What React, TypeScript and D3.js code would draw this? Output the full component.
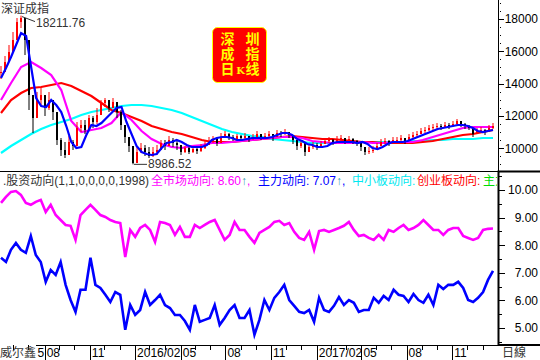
import React from 'react';
import * as d3 from 'd3';

const START = new Date(2015, 4, 7);
const END = new Date(2018, 0, 22);

// sampled candles of 深证成指
const closes = [14712, 15332, 15952, 16696, 17812, 18060, 16696, 13286, 11860, 12976,
  13286, 12480, 12976, 12232, 10496, 9876, 9566, 10372, 10124, 11240,
  11426, 11116, 11860, 11612, 12046, 12790, 12976, 12480, 12852, 12232,
  11426, 10682, 10124, 9070, 9752, 10000, 9752, 9504, 9752, 9876,
  10310, 10124, 10496, 10310, 10186, 9752, 10000, 9752, 9938, 9814,
  10000, 10186, 10434, 10558, 10310, 10682, 10868, 10682, 10558, 10744,
  10620, 10744, 10558, 10682, 10868, 10682, 10744, 10868, 10682, 10930,
  10868, 10992, 10806, 10496, 10124, 10310, 9752, 10062, 10186, 10062,
  10248, 10434, 10496, 10372, 10558, 10620, 10434, 10558, 10434, 10310,
  10062, 9752, 9814, 9876, 10124, 10372, 10434, 10310, 10496, 10496,
  10620, 10434, 10682, 10806, 10868, 11054, 11116, 11240, 11302, 11364,
  11302, 11426, 11364, 11488, 11674, 11488, 11364, 11240, 10868, 11054,
  11116, 10992, 11240, 11364];

const highs = [15084, 15704, 16386, 17192, 18060, 18211.76, 17440, 14836, 12976, 13472,
  13720, 13100, 13472, 12852, 11736, 10620, 10372, 10744, 10496, 11612,
  11736, 11736, 12046, 11984, 12480, 12976, 13100, 12976, 13100, 12728,
  12356, 11240, 10620, 10000, 10124, 10310, 10186, 10062, 10062, 10186,
  10496, 10496, 10744, 10620, 10496, 10186, 10124, 10062, 10124, 10062,
  10248, 10434, 10682, 10744, 10682, 10930, 11054, 10930, 10806, 10868,
  10806, 10930, 10744, 10868, 11054, 10868, 10930, 11054, 10868, 11116,
  11054, 11178, 10992, 10744, 10434, 10496, 10124, 10248, 10372, 10310,
  10434, 10620, 10682, 10558, 10744, 10806, 10620, 10744, 10620, 10496,
  10310, 10062, 10062, 10124, 10310, 10558, 10620, 10496, 10682, 10682,
  10806, 10620, 10868, 10992, 11054, 11240, 11302, 11426, 11488, 11550,
  11488, 11612, 11550, 11674, 11798, 11674, 11550, 11426, 11116, 11240,
  11302, 11178, 11426, 11550];

const lows = [14278, 14836, 15332, 15952, 16696, 17440, 15766, 12356, 10930, 12232,
  12666, 11984, 12356, 11736, 10186, 9504, 9380, 9876, 9876, 10496,
  10992, 10868, 11302, 11240, 11488, 12356, 12542, 12232, 12480, 11860,
  11116, 10310, 9752, 8986.52, 9256, 9690, 9504, 9380, 9442, 9566,
  9876, 9876, 10124, 10062, 9876, 9566, 9690, 9628, 9690, 9628,
  9752, 9938, 10186, 10310, 10124, 10496, 10620, 10496, 10434, 10496,
  10434, 10558, 10372, 10496, 10682, 10496, 10558, 10682, 10434, 10744,
  10682, 10806, 10620, 10248, 9876, 10000, 9504, 9814, 9938, 9876,
  10062, 10248, 10310, 10186, 10372, 10434, 10248, 10372, 10248, 10124,
  9814, 9566, 9628, 9690, 9938, 10186, 10248, 10124, 10310, 10310,
  10434, 10248, 10496, 10620, 10682, 10868, 10930, 11054, 11116, 11178,
  11116, 11240, 11178, 11302, 11426, 11302, 11178, 11116, 10682, 10868,
  10930, 10806, 11054, 11178];

const maShort = [14340, 14960, 15642, 16386, 17130, 16944, 15022, 13100, 12604, 12542,
  12976, 12666, 12232, 11364, 10372, 10000, 10062, 10806, 11426, 11364,
  11550, 11860, 12170, 12480, 12542, 11612, 10868, 10124, 9752, 9628,
  9566, 9628, 10000, 10310, 10372, 10496, 10372, 10186, 10062, 10062,
  10062, 10186, 10496, 10620, 10682, 10682, 10620, 10496, 10496, 10558,
  10620, 10620, 10620, 10620, 10682, 10806, 10930, 10930, 10806, 10558,
  10434, 10248, 10186, 10062, 10062, 10124, 10310, 10372, 10372, 10372,
  10372, 10310, 10372, 10248, 10000, 9938, 10062, 10248, 10372, 10372,
  10372, 10434, 10558, 10682, 10806, 10930, 11054, 11178, 11240, 11302,
  11364, 11426, 11426, 11364, 11240, 11054, 10992, 11054, 11116];

const maMid = [12976, 14030, 15022, 15332, 14960, 14526, 13596, 11674, 10992, 11116,
  11240, 11550, 12232, 11736, 11054, 10558, 10248, 10062, 10000, 10124,
  10186, 10310, 10310, 10372, 10434, 10496, 10558, 10620, 10682, 10682,
  10620, 10434, 10372, 10310, 10310, 10310, 10372, 10310, 10310, 10372,
  10372, 10372, 10496, 10682, 10868, 11054, 11240, 11302, 11302, 11302];

const maLong = [12170, 12976, 13410, 13720, 13782, 13906, 14030, 13844, 13534, 13224,
  12790, 12356, 12170, 11922, 11674, 11364, 11178, 10992, 10868, 10682,
  10496, 10372, 10372, 10372, 10434, 10496, 10558, 10620, 10682, 10744,
  10682, 10620, 10558, 10558, 10496, 10434, 10372, 10372, 10310, 10310,
  10310, 10310, 10372, 10434, 10558, 10682, 10806, 10868, 10992, 11116];

const maYear = [9690, 10124, 10496, 10868, 11178, 11426, 11612, 11798, 12046, 12232,
  12356, 12480, 12604, 12666, 12666, 12604, 12480, 12356, 12170, 11922,
  11674, 11426, 11178, 10992, 10868, 10744, 10682, 10558, 10496, 10434,
  10372, 10310, 10310, 10310, 10310, 10310, 10372, 10372, 10372, 10372,
  10372, 10434, 10434, 10496, 10496, 10558, 10558, 10558, 10620, 10620];

// 全市场动向
const marketDir = [9.53, 9.75, 9.93, 9.96, 9.82, 9.53, 9.46, 9.57, 9.64, 9.20,
  9.46, 9.09, 8.91, 8.73, 8.70, 8.19, 9.09, 9.28, 9.46, 9.28,
  9.09, 9.02, 8.91, 8.84, 8.80, 7.57, 8.55, 8.30, 8.62, 8.73,
  8.55, 8.12, 8.84, 8.80, 8.73, 8.37, 8.66, 8.30, 8.30, 8.73,
  8.62, 8.73, 8.84, 8.91, 8.55, 8.19, 8.37, 8.84, 8.55, 8.55,
  8.30, 8.08, 8.44, 8.55, 8.66, 8.84, 8.88, 8.73, 8.80, 8.48,
  8.26, 8.19, 8.48, 7.83, 8.51, 8.55, 8.48, 8.55, 8.62, 8.70,
  8.84, 8.55, 8.33, 8.37, 8.26, 8.19, 8.37, 8.19, 8.55, 8.48,
  8.62, 8.73, 8.55, 8.62, 8.73, 8.91, 8.73, 8.55, 8.55, 8.37,
  8.55, 8.62, 8.62, 8.33, 8.26, 8.19, 8.26, 8.55, 8.59, 8.60];

// 主力动向
const mainDir = [7.54, 7.39, 7.83, 8.08, 7.83, 7.72, 8.33, 7.64, 7.39, 6.67,
  7.10, 6.92, 7.39, 6.56, 6.01, 5.58, 6.38, 6.38, 7.54, 6.56,
  6.45, 6.20, 5.94, 6.30, 6.20, 4.93, 5.83, 5.47, 5.65, 6.30,
  5.83, 6.01, 6.20, 5.83, 5.72, 5.47, 5.47, 5.25, 4.93, 5.83,
  5.22, 5.29, 5.36, 5.83, 5.11, 5.36, 5.65, 5.83, 5.36, 5.36,
  5.65, 4.75, 5.29, 6.01, 5.65, 6.09, 6.30, 6.56, 6.01, 5.80,
  5.58, 5.54, 5.65, 5.22, 6.09, 5.65, 5.58, 5.80, 6.12, 5.83,
  6.01, 5.91, 5.58, 5.65, 5.65, 6.09, 5.91, 6.16, 6.01, 6.38,
  6.20, 6.16, 5.94, 6.23, 6.01, 5.91, 6.20, 5.83, 6.56, 6.41,
  6.56, 6.56, 6.67, 6.45, 6.01, 5.94, 6.09, 6.30, 6.74, 7.07];

const priceTicks = [10000, 12000, 14000, 16000, 18000];
const dirTicks = [5, 6, 7, 8, 9, 10];
const majorTickDates = [
  new Date(2015, 7, 3), new Date(2015, 10, 2), new Date(2016, 1, 1), new Date(2016, 4, 3),
  new Date(2016, 7, 1), new Date(2016, 10, 1), new Date(2017, 1, 1), new Date(2017, 4, 2),
  new Date(2017, 7, 1), new Date(2017, 10, 1)];
const majorTickLabels = ['08', '11', '2016/02', '05', '08', '11', '2017/02', '05', '08', '11'];

const FONT = "'Liberation Sans', Arial, 'Noto Sans CJK SC', sans-serif";
const CJK = "'Noto Sans CJK SC', sans-serif";

export default function App() {
  const x = d3.scaleTime().domain([START, END]).range([1, 493]);
  const dateAt = (n: number, i: number) =>
    new Date(START.getTime() + (i * (END.getTime() - START.getTime())) / (n - 1));
  const yP = d3.scaleLinear().domain([8574, 19178]).range([171, 0]);
  const yD = d3.scaleLinear().domain([4.38, 10.65]).range([345, 172]);

  const path = (arr: number[], ys: d3.ScaleLinear<number, number>) =>
    d3.line<number>().x((_, i) => x(dateAt(arr.length, i))).y((d) => ys(d))(arr) || '';

  const hiIdx = d3.maxIndex(highs);
  const loIdx = d3.minIndex(lows);
  const hx = x(dateAt(highs.length, hiIdx));
  const hy = yP(highs[hiIdx]);
  const lx = x(dateAt(lows.length, loIdx));
  const ly = yP(lows[loIdx]);

  const minorPrice = d3.range(8500, 19500, 500).filter((v) => v % 2000 !== 0 && yP(v) > 2 && yP(v) < 170);
  const minorDir = d3.range(4.5, 10.6, 0.5).filter((v) => v % 1 !== 0);
  const majorSet = new Set(majorTickDates.map((d) => d.getFullYear() * 12 + d.getMonth()));
  const minorMonths = d3.timeMonth.range(START, END).filter((d) => !majorSet.has(d.getFullYear() * 12 + d.getMonth()));

  return (
    <svg width={540} height={360} style={{ position: 'fixed', left: 0, top: 0, background: '#fff' }}
      fontFamily={FONT}>
      <defs>
        <clipPath id="topclip"><rect x={0} y={0} width={498} height={171} /></clipPath>
        <clipPath id="botclip"><rect x={0} y={172} width={498} height={173} /></clipPath>
        <clipPath id="titleclip"><rect x={0} y={172} width={497} height={20} /></clipPath>
      </defs>
      <rect x={0} y={0} width={540} height={360} fill="#fff" />

      {/* top panel */}
      <g clipPath="url(#topclip)">
        <path d={path(maYear, yP)} fill="none" stroke="#00ffff" strokeWidth={2.2} />
        <path d={path(maLong, yP)} fill="none" stroke="#ff0000" strokeWidth={2.2} />
        <path d={path(maMid, yP)} fill="none" stroke="#ff00ff" strokeWidth={2.2} />
        {closes.map((c, i) => {
          const o = i > 0 ? closes[i - 1] : c;
          const cx = x(dateAt(closes.length, i));
          const y0 = yP(Math.max(o, c));
          const y1 = yP(Math.min(o, c));
          const up = c >= o;
          const col = up ? '#ff0000' : '#000';
          return (
            <g key={i}>
              <line x1={cx} x2={cx} y1={yP(highs[i])} y2={yP(lows[i])} stroke={col} strokeWidth={1} />
              <rect x={cx - 1} y={y0} width={2} height={Math.max(1, y1 - y0)} fill={col} />
            </g>
          );
        })}
        <path d={path(maShort, yP)} fill="none" stroke="#0000ff" strokeWidth={2.2} />
      </g>
      <text x={1} y={13} fontSize={12} fill="#333" fontFamily={CJK}>深证成指</text>
      <line x1={hx + 1} y1={hy + 1} x2={hx + 14} y2={hy + 6} stroke="#333" strokeWidth={1} />
      <text x={hx + 15} y={hy + 11} fontSize={12} fill="#333">{d3.format('.2f')(highs[hiIdx])}</text>
      <line x1={lx + 1} y1={ly} x2={lx + 14} y2={ly} stroke="#333" strokeWidth={1} />
      <text x={lx + 15} y={ly + 4} fontSize={12} fill="#333">{d3.format('.2f')(lows[loIdx])}</text>

      {/* title box */}
      <rect x={212.5} y={27.5} width={54} height={55} rx={5} fill="#ff0000" stroke="#ffff00" strokeWidth={1} />
      <text fontFamily={CJK} fontWeight="bold" fill="#ffff00" fontSize={14} textAnchor="middle">
        <tspan x={227.5} y={44}>深</tspan>
        <tspan x={252.5} y={44}>圳</tspan>
        <tspan x={227.5} y={59}>成</tspan>
        <tspan x={252.5} y={59}>指</tspan>
        <tspan x={227.5} y={74}>日</tspan>
        <tspan x={240.5} y={73.5} fontSize={10} fontFamily="'DejaVu Serif', serif">K</tspan>
        <tspan x={252.5} y={74}>线</tspan>
      </text>

      {/* bottom panel */}
      <g clipPath="url(#botclip)">
        <path d={path(marketDir, yD)} fill="none" stroke="#ff00ff" strokeWidth={2.6} />
        <path d={path(mainDir, yD)} fill="none" stroke="#0000ff" strokeWidth={2.6} />
      </g>
      <g clipPath="url(#titleclip)" fontSize={12}>
        <text y={185}>
          <tspan x={3} fill="#333">.股资动向(1,1,0,0,0,0,1998)</tspan>
          <tspan x={151} fill="#ff00ff">全市场动向: {marketDir[marketDir.length - 1].toFixed(2)}</tspan>
          <tspan fill="#3a9bb0">↑</tspan>
          <tspan fill="#ff00ff">, </tspan>
          <tspan x={258} fill="#0000ff">主力动向: {mainDir[mainDir.length - 1].toFixed(2)}</tspan>
          <tspan fill="#3a9bb0">↑</tspan>
          <tspan fill="#0000ff">, </tspan>
          <tspan x={352} fill="#00e8f0">中小板动向: </tspan>
          <tspan x={417} fill="#ff0000">创业板动向: </tspan>
          <tspan x={483} fill="#00dd00">主力</tspan>
        </text>
      </g>

      {/* frames */}
      <line x1={0} y1={171.5} x2={540} y2={171.5} stroke="#000" strokeWidth={1} />
      <line x1={498.5} y1={0} x2={498.5} y2={345} stroke="#000" strokeWidth={1} />
      <rect x={498.5} y={171.5} width={45} height={173.5} fill="none" stroke="#000" strokeWidth={2} />
      <line x1={36} y1={345.5} x2={498} y2={345.5} stroke="#000" strokeWidth={1} />

      {/* right axis top */}
      {priceTicks.map((v) => (
        <g key={v}>
          <line x1={498} x2={504} y1={Math.round(yP(v)) + 0.5} y2={Math.round(yP(v)) + 0.5} stroke="#000" />
          <text x={538} y={yP(v) + 4.5} fontSize={12} textAnchor="end" fill="#000">{v}</text>
        </g>
      ))}
      {minorPrice.map((v) => (
        <rect key={v} x={500} y={Math.round(yP(v))} width={1} height={1} fill="#000" />
      ))}

      {/* right axis bottom */}
      {dirTicks.map((v) => (
        <g key={v}>
          <line x1={498} x2={505} y1={Math.round(yD(v)) + 0.5} y2={Math.round(yD(v)) + 0.5} stroke="#000" />
          <text x={538} y={yD(v) + 4.5} fontSize={12} textAnchor="end" fill="#000">{v.toFixed(2)}</text>
        </g>
      ))}
      {minorDir.map((v) => (
        <line key={v} x1={498} x2={502} y1={Math.round(yD(v)) + 0.5} y2={Math.round(yD(v)) + 0.5} stroke="#000" />
      ))}

      {/* x axis */}
      {minorMonths.map((d) => (
        <line key={d.getTime()} x1={Math.round(x(d)) + 0.5} x2={Math.round(x(d)) + 0.5} y1={345} y2={350} stroke="#000" />
      ))}
      {majorTickDates.map((d, i) => (
        <g key={i}>
          <line x1={Math.round(x(d)) + 0.5} x2={Math.round(x(d)) + 0.5} y1={345} y2={360} stroke="#000" />
          <text x={x(d) + 2} y={357} fontSize={12} fill="#000">{majorTickLabels[i]}</text>
        </g>
      ))}
      <text x={x(majorTickDates[0]) - 0.5} y={357} fontSize={12} textAnchor="end" fill="#000">5</text>
      <text x={0} y={357} fontSize={12} fill="#333" fontFamily={CJK}>威尔鑫</text>
      <text x={502} y={357} fontSize={12} fill="#333" fontFamily={CJK}>日線</text>
    </svg>
  );
}
